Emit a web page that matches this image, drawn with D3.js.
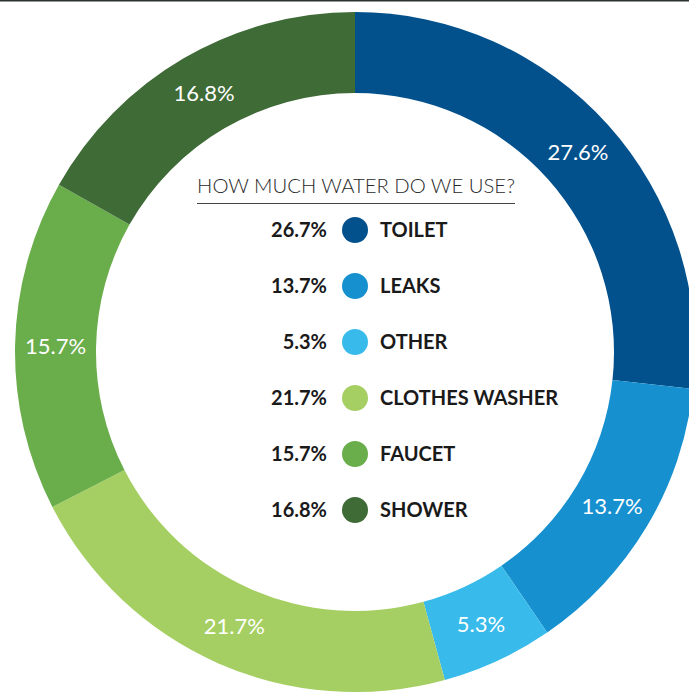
<!DOCTYPE html>
<html>
<head>
<meta charset="utf-8">
<script src="https://cdn.jsdelivr.net/npm/d3@7"></script>
<style>
  html, body { margin: 0; padding: 0; background: #fff; }
  svg { display: block; }
</style>
</head>
<body>
<div id="chart"></div>
<script>
// ---- data ----
const categories = ["TOILET", "LEAKS", "OTHER", "CLOTHES WASHER", "FAUCET", "SHOWER"];
const values = [26.7, 13.7, 5.3, 21.7, 15.7, 16.8];
const ringLabels = ["27.6%", "13.7%", "5.3%", "21.7%", "15.7%", "16.8%"];
const legendLabels = ["26.7%", "13.7%", "5.3%", "21.7%", "15.7%", "16.8%"];
const colors = ["#02518c", "#1790d0", "#38bbeb", "#a5cf62", "#6aad4b", "#3f6b37"];
const title = "HOW MUCH WATER DO WE USE?";

// ---- layout ----
const W = 689, H = 693;
const cx = 355, cy = 352, rOuter = 340, rInner = 259;

const svg = d3.select("#chart").append("svg")
  .attr("width", W).attr("height", H);

// top rule
svg.append("line")
  .attr("x1", 0).attr("x2", W).attr("y1", 0.75).attr("y2", 0.75)
  .attr("stroke", "#2b3332").attr("stroke-width", 1.5);

const data = categories.map((c, i) => ({ cat: c, value: values[i], ring: ringLabels[i], leg: legendLabels[i], color: colors[i] }));

const pie = d3.pie().value(d => d.value).sort(null);
const arc = d3.arc().innerRadius(rInner).outerRadius(rOuter);
const arcs = pie(data);

const g = svg.append("g").attr("transform", `translate(${cx},${cy})`);

g.selectAll("path.slice").data(arcs).enter().append("path")
  .attr("class", "slice")
  .attr("d", arc)
  .attr("fill", d => d.data.color);

g.selectAll("text.ring").data(arcs).enter().append("text")
  .attr("class", "ring")
  .attr("x", d => arc.centroid(d)[0])
  .attr("y", d => arc.centroid(d)[1])
  .attr("dy", "0.36em")
  .attr("text-anchor", "middle")
  .attr("font-family", "Lato, 'Open Sans', sans-serif")
  .attr("font-size", 22)
  .attr("fill", "#fff")
  .text(d => d.data.ring);

// ---- legend ----
svg.append("text")
  .attr("x", 356).attr("y", 193)
  .attr("text-anchor", "middle")
  .attr("font-family", "Lato, sans-serif")
  .attr("font-weight", 300)
  .attr("font-size", 20.3)
  .attr("fill", "#2a2a2a")
  .text(title);

svg.append("line")
  .attr("x1", 197).attr("x2", 515).attr("y1", 203.5).attr("y2", 203.5)
  .attr("stroke", "#444").attr("stroke-width", 1);

const rowY = d3.scalePoint().domain(categories).range([230, 510]);

const rows = svg.selectAll("g.row").data(data).enter().append("g")
  .attr("class", "row")
  .attr("transform", d => `translate(0,${rowY(d.cat)})`);

rows.append("circle")
  .attr("cx", 355).attr("cy", 0).attr("r", 13)
  .attr("fill", d => d.color);

rows.append("text")
  .attr("x", 327).attr("dy", "0.36em")
  .attr("text-anchor", "end")
  .attr("font-family", "Lato, sans-serif")
  .attr("font-weight", 700)
  .attr("font-size", 20)
  .attr("fill", "#1a1a1a")
  .text(d => d.leg);

rows.append("text")
  .attr("x", 380).attr("dy", "0.36em")
  .attr("font-family", "Lato, sans-serif")
  .attr("font-weight", 700)
  .attr("font-size", 20)
  .attr("fill", "#1a1a1a")
  .text(d => d.cat);
</script>
</body>
</html>
